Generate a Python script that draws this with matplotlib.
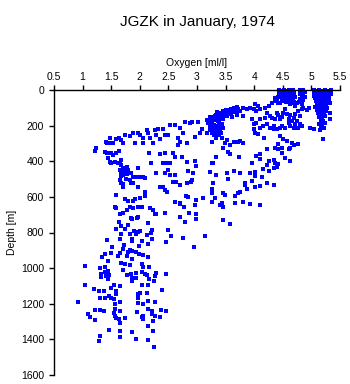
import matplotlib
matplotlib.use("Agg")
import matplotlib.pyplot as plt
import numpy as np

plt.rcParams['font.family'] = ['Liberation Sans', 'DejaVu Sans']

# (oxygen [ml/l], depth [m]) samples, grouped by region
surface_mixed = [
    (4.44, 2), (4.48, 3), (4.52, 2), (4.56, 3), (4.60, 2), (4.64, 3), (4.68, 2),
    (4.45, 10), (4.49, 11), (4.53, 10), (4.57, 11), (4.61, 10), (4.65, 11), (4.69, 10),
    (4.44, 18), (4.48, 19), (4.52, 18), (4.56, 19), (4.60, 18), (4.64, 19), (4.68, 18),
    (4.45, 26), (4.49, 27), (4.53, 26), (4.57, 27), (4.61, 26), (4.65, 27), (4.69, 26),
    (4.46, 34), (4.50, 35), (4.54, 34), (4.58, 35), (4.62, 34), (4.66, 35), (4.70, 34),
    (4.36, 45), (4.42, 40), (4.48, 48), (4.53, 42), (4.58, 50), (4.63, 44), (4.68, 52),
    (4.72, 40), (4.40, 60), (4.50, 62), (4.56, 70), (4.62, 65), (4.45, 75), (4.70, 70),
    (4.80, 2), (4.85, 2), (4.88, 10), (4.82, 12), (4.80, 22), (4.86, 24), (4.83, 32),
    (4.88, 40), (4.80, 50), (4.86, 58), (4.78, 68), (4.84, 80),
    (5.04, 2), (5.09, 3), (5.14, 2), (5.19, 3), (5.24, 2), (5.29, 3), (5.34, 2),
    (5.05, 12), (5.10, 13), (5.15, 12), (5.20, 13), (5.25, 12), (5.30, 13), (5.35, 12),
    (5.04, 22), (5.09, 23), (5.14, 22), (5.19, 23), (5.24, 22), (5.29, 23), (5.34, 22),
    (5.05, 32), (5.10, 33), (5.15, 32), (5.20, 33), (5.25, 32), (5.30, 33),
    (5.06, 45), (5.11, 42), (5.16, 48), (5.21, 44), (5.26, 46), (5.31, 50), (5.08, 60),
    (5.13, 62), (5.18, 58), (5.23, 64), (5.28, 60), (5.10, 78), (5.15, 75), (5.20, 80),
    (5.25, 76), (5.33, 75), (5.07, 95), (5.12, 92), (5.17, 98), (5.22, 94), (5.27, 100),
    (5.10, 112), (5.15, 115), (5.20, 110), (5.25, 118), (5.33, 128), (5.12, 130),
    (5.17, 135), (5.22, 132), (5.14, 150), (5.19, 155), (5.24, 148), (5.33, 165),
    (5.16, 170), (5.21, 175), (5.14, 190), (5.19, 195), (5.24, 188), (5.17, 210),
    (5.22, 215), (5.15, 225), (5.05, 220), (4.98, 215), (5.21, 275),
]

upper_band = [
    (4.01, 80), (4.07, 90), (4.11, 108), (4.19, 99), (4.25, 90), (4.31, 71), (4.37, 62),
    (4.42, 71), (4.48, 62), (4.57, 67), (4.63, 80), (4.69, 71), (4.72, 90), (4.74, 71),
    (3.81, 99), (3.87, 108), (3.93, 99), (3.99, 108), (4.04, 118), (3.75, 118), (3.81, 146),
    (3.96, 165), (3.99, 193), (4.04, 183), (4.10, 165), (4.19, 155), (4.22, 127),
    (4.27, 146), (4.31, 155), (4.37, 161), (4.39, 127), (4.42, 142), (4.45, 165),
    (4.48, 150), (4.51, 127), (4.54, 108), (4.57, 137), (4.60, 165), (4.63, 142),
    (4.66, 174), (4.69, 155), (4.72, 137), (4.77, 118), (4.80, 146), (4.83, 108),
    (4.86, 99), (4.92, 112), (4.95, 99), (3.99, 221), (4.01, 239), (4.07, 249),
    (4.10, 211), (4.16, 202), (4.22, 193), (4.28, 211), (4.34, 202), (4.34, 221),
    (4.39, 221), (4.45, 211), (4.48, 202), (4.54, 211), (4.60, 183), (4.63, 202),
    (4.69, 211), (4.72, 193), (4.74, 174), (4.77, 211), (4.80, 193), (4.83, 202),
    (4.17, 268), (4.45, 258), (4.51, 277), (4.57, 286), (4.66, 296), (4.63, 324),
    (4.69, 311), (4.77, 305), (4.42, 305), (4.37, 324), (4.42, 333), (4.48, 324),
    (4.60, 333), (3.81, 296), (3.75, 286), (4.23, 329), (4.48, 352), (4.54, 380),
    (4.63, 398),
    (3.45, 120), (3.50, 115), (3.55, 110), (3.58, 120), (3.60, 105), (3.62, 115),
    (3.65, 100), (3.68, 110), (3.70, 95), (3.72, 105), (3.55, 130), (3.60, 135),
    (3.66, 125), (3.52, 145), (3.62, 150), (3.70, 140), (3.74, 120), (3.40, 130),
    (3.35, 125),
]

thermocline = [
    (3.22, 150), (3.25, 160), (3.28, 150), (3.31, 145), (3.34, 140), (3.37, 150),
    (3.40, 145), (3.24, 175), (3.27, 185), (3.30, 170), (3.33, 165), (3.36, 175),
    (3.39, 180), (3.42, 165), (3.45, 160), (3.23, 200), (3.26, 210), (3.29, 195),
    (3.32, 200), (3.35, 205), (3.38, 195), (3.41, 210), (3.28, 225), (3.31, 230),
    (3.34, 220), (3.37, 235), (3.40, 225), (3.30, 250), (3.34, 245), (3.38, 255),
    (3.26, 240), (3.20, 185), (3.18, 170), (3.44, 190), (3.46, 215), (3.42, 240),
    (3.33, 262), (3.22, 225), (3.48, 140), (3.50, 130),
    (2.76, 243), (2.79, 178), (2.88, 187), (2.91, 178), (3.02, 178), (3.08, 221),
    (3.05, 243), (2.70, 290), (2.82, 296), (2.97, 262), (3.17, 243), (3.26, 290),
    (3.34, 271), (3.43, 271), (3.52, 281), (3.49, 299), (3.58, 309), (3.64, 290),
    (3.72, 290), (3.46, 327),
]

intermediate = [
    (1.21, 342), (1.24, 327), (1.41, 290), (1.42, 299), (1.48, 271), (1.50, 296),
    (1.53, 296), (1.59, 277), (1.64, 271), (1.68, 281), (1.71, 296), (1.74, 253),
    (1.83, 258), (1.88, 243), (1.91, 299), (1.97, 243), (2.00, 253), (2.06, 271),
    (2.06, 299), (2.12, 224), (2.15, 243), (2.18, 271), (2.23, 299), (2.26, 224),
    (2.28, 253), (2.35, 277), (2.32, 221), (2.41, 221), (2.44, 253), (2.50, 253),
    (2.53, 196), (2.61, 196), (2.67, 271), (2.67, 309), (2.70, 215), (1.39, 346),
    (1.42, 352), (1.50, 356), (1.53, 365), (1.58, 356), (1.64, 340), (1.45, 384),
    (1.48, 402), (1.50, 408), (1.56, 402), (1.62, 408), (1.68, 393), (1.65, 412),
    (1.71, 440), (1.77, 430), (1.65, 449), (1.68, 468), (1.74, 458), (1.80, 449),
    (1.71, 477), (1.85, 468), (1.88, 486), (1.94, 486), (2.00, 490), (2.06, 486),
    (2.09, 496), (1.97, 440), (2.16, 356), (2.35, 361), (2.44, 356), (2.58, 352),
    (2.61, 378), (2.53, 412), (2.47, 412), (2.41, 412), (2.19, 408), (2.29, 464),
    (2.50, 449), (2.44, 468), (2.53, 477), (2.61, 477), (1.65, 505), (1.68, 524),
    (1.71, 543), (1.83, 505), (1.85, 524), (1.88, 524), (1.97, 543), (2.09, 571),
    (2.35, 543), (2.41, 543), (2.47, 571), (2.44, 561), (2.58, 514), (2.64, 514),
    (2.61, 627), (2.70, 636), (1.59, 589), (1.74, 614), (1.80, 623), (1.88, 623),
    (1.91, 614), (2.00, 608), (2.09, 595), (1.97, 659), (2.00, 659), (2.03, 659),
    (1.83, 659), (1.88, 664), (1.77, 674), (1.71, 689), (1.65, 696), (1.56, 655),
    (1.59, 664), (2.18, 664), (2.23, 674), (2.26, 696), (2.29, 696), (2.44, 692),
    (1.85, 720), (1.97, 711),
    (1.67, 420), (1.72, 455), (1.68, 485), (1.75, 500), (1.70, 530), (1.78, 470),
    (2.73, 378), (2.82, 402), (2.96, 397), (2.99, 427), (3.26, 408), (3.28, 408),
    (3.34, 378), (3.55, 346), (3.57, 359), (3.74, 378), (4.04, 371), (4.10, 359),
    (4.11, 389), (3.96, 412), (4.22, 421), (4.25, 397), (4.34, 393), (4.36, 412),
    (4.42, 415), (4.34, 440), (4.39, 430), (4.25, 453), (4.16, 445), (4.01, 458),
    (3.93, 464), (3.75, 468), (3.65, 453), (3.52, 468), (3.55, 501), (3.34, 477),
    (3.23, 458), (2.93, 464), (2.85, 453), (2.92, 505), (2.90, 515), (2.70, 533),
    (2.82, 524), (3.28, 524), (3.84, 524), (3.84, 533), (3.96, 509), (4.01, 483),
    (4.13, 490), (4.01, 543), (4.10, 539), (4.22, 520), (4.34, 533), (3.87, 558),
    (3.66, 595), (3.75, 571), (3.72, 576), (3.46, 576), (3.49, 589), (3.26, 558),
    (3.26, 580), (3.27, 627), (3.31, 608), (3.43, 636), (3.46, 659), (3.40, 646),
    (3.66, 633), (3.81, 627), (3.93, 640), (4.10, 646), (3.10, 604), (2.98, 618),
    (2.85, 599), (2.81, 595), (2.70, 640), (2.77, 659), (2.96, 646), (2.86, 689),
    (2.99, 698), (2.99, 726), (2.70, 711), (2.79, 739), (3.45, 730), (3.57, 752),
    (3.14, 820), (2.75, 833), (2.95, 883),
]

deep = [
    (1.86, 722), (1.95, 719), (1.64, 741), (1.80, 760), (2.15, 747), (1.68, 766),
    (1.58, 779), (1.74, 779), (1.90, 794), (1.97, 798), (2.00, 790), (2.22, 784),
    (2.49, 788), (1.67, 809), (1.83, 809), (1.93, 809), (2.13, 813), (2.19, 803),
    (1.65, 835), (1.87, 835), (1.86, 846), (2.03, 846), (2.21, 835), (2.54, 818),
    (2.46, 854), (1.43, 841), (2.14, 865), (1.99, 878), (1.73, 872), (1.71, 891),
    (1.52, 882), (1.83, 897), (1.86, 906), (1.80, 910), (1.94, 910), (1.99, 921),
    (2.06, 929), (2.15, 940), (1.65, 915), (1.49, 915), (1.40, 921), (1.34, 938),
    (1.45, 958), (1.62, 934), (1.77, 934), (1.86, 947), (1.68, 972), (1.74, 977),
    (1.83, 981), (2.03, 977), (2.05, 996), (2.16, 996), (1.04, 990), (1.30, 1000),
    (1.39, 996), (1.70, 1009), (1.45, 1015), (1.39, 1022), (1.33, 1033), (1.46, 1037),
    (1.41, 1046), (1.33, 1052), (1.45, 1061), (1.77, 1041), (1.84, 1033), (1.94, 1028),
    (1.86, 1056), (1.93, 1056), (1.87, 1071), (2.03, 1022), (2.09, 1033), (2.13, 1041),
    (2.16, 1060), (2.28, 1028), (2.26, 1046), (2.46, 1033), (2.25, 1071),
    (1.04, 1093), (1.55, 1093), (1.66, 1102), (2.03, 1093), (2.15, 1093), (1.20, 1117),
    (1.29, 1126), (1.38, 1130), (1.49, 1111), (1.58, 1126), (1.59, 1145), (1.46, 1154),
    (1.50, 1168), (1.55, 1173), (1.30, 1168), (1.39, 1168), (0.92, 1192), (1.65, 1192),
    (1.56, 1201), (1.97, 1145), (2.00, 1141), (2.13, 1141), (2.38, 1123), (1.97, 1168),
    (2.15, 1186), (2.26, 1192), (2.06, 1201), (1.97, 1198), (1.21, 1235), (1.30, 1235),
    (1.38, 1239), (1.56, 1229), (1.66, 1239), (1.10, 1257), (1.13, 1272), (1.21, 1291),
    (1.55, 1254), (1.56, 1267), (1.58, 1280), (1.64, 1285), (1.74, 1280), (1.95, 1248),
    (2.06, 1267), (2.03, 1276), (2.06, 1285), (2.15, 1229), (2.21, 1239), (2.22, 1257),
    (2.26, 1270), (2.23, 1299), (2.35, 1276), (2.37, 1235), (2.46, 1242), (1.65, 1310),
    (2.15, 1323), (1.46, 1347), (1.66, 1351), (1.66, 1385), (1.30, 1379), (1.87, 1360),
    (1.94, 1398), (2.15, 1403), (2.23, 1351), (1.29, 1411), (2.25, 1444),
]

x_ticks = [0.5, 1, 1.5, 2, 2.5, 3, 3.5, 4, 4.5, 5, 5.5]
y_ticks = [0, 200, 400, 600, 800, 1000, 1200, 1400, 1600]

samples = np.array(surface_mixed + upper_band + thermocline + intermediate + deep)
oxygen = samples[:, 0]
depth = samples[:, 1]

fig = plt.figure(figsize=(3.5, 3.84), dpi=100)
ax = fig.add_axes([54 / 350, 9 / 384, 286 / 350, 285 / 384])

ax.plot(oxygen, depth, 's', color='#0000ff', ms=2.7, mew=0, clip_on=False)

ax.set_xlim(0.5, 5.5)
ax.set_ylim(1600, 0)
ax.set_xticks(x_ticks)
ax.set_xticklabels(['%g' % t for t in x_ticks])
ax.set_yticks(y_ticks)

ax.xaxis.tick_top()
ax.xaxis.set_label_position('top')
for side in ('right', 'bottom'):
    ax.spines[side].set_visible(False)
for side in ('top', 'left'):
    ax.spines[side].set_linewidth(1.0)
ax.tick_params(axis='both', direction='out', length=3.6, width=1.0,
               labelsize=7.5, pad=2.5, colors='black')
ax.tick_params(axis='y', pad=3.5)

ax.set_xlabel('Oxygen [ml/l]', fontsize=7.5, labelpad=4)
ax.set_ylabel('Depth [m]', fontsize=7.5, labelpad=3)
fig.text(197 / 350, 1 - 22 / 384, 'JGZK in January, 1974', ha='center', va='center',
         fontsize=11)

fig.savefig('out.png', dpi=100)
